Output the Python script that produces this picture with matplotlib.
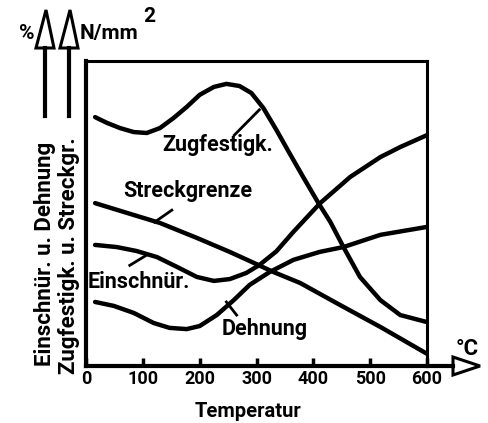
import matplotlib
matplotlib.use("Agg")
import matplotlib.pyplot as plt
from matplotlib.patches import Polygon
from matplotlib.lines import Line2D

# values (temperature in °C, y in relative units 0..100)
zug_t = [16, 37, 60, 84, 107, 130, 154, 177, 200, 225, 247, 270, 291, 312, 335, 358, 382, 409, 430, 453, 482, 518, 553, 600]
zug_v = [81.6, 79.7, 78.0, 76.7, 76.4, 78.0, 81.3, 84.9, 88.9, 91.5, 92.5, 91.8, 89.5, 84.6, 77.4, 69.8, 62.0, 53.4, 47.2, 39.0, 29.2, 21.6, 16.7, 14.4]

streck_t = [16, 72, 130, 195, 253, 300, 330, 377, 447, 518, 600]
streck_v = [53.4, 50.2, 46.9, 42.0, 37.4, 33.4, 30.8, 27.2, 20.0, 12.8, 4.0]

einschn_t = [16, 54, 89, 125, 160, 195, 225, 253, 282, 305, 335, 365, 412, 465, 518, 553, 600]
einschn_v = [39.7, 39.0, 37.7, 35.7, 32.5, 29.2, 27.9, 28.5, 30.5, 33.1, 37.6, 44.0, 53.4, 62.0, 68.5, 71.8, 75.7]

dehn_t = [16, 49, 84, 119, 147, 177, 200, 230, 260, 288, 323, 365, 411, 453, 518, 600]
dehn_v = [21.0, 19.7, 17.4, 14.1, 12.5, 12.1, 13.1, 16.7, 21.6, 26.6, 30.8, 34.8, 37.4, 39.0, 43.0, 45.6]

temp_ticks = [0, 100, 200, 300, 400, 500, 600]

FONT = ["Roboto", "DejaVu Sans"]

W, H = 488, 423
fig = plt.figure(figsize=(W / 100, H / 100), dpi=100)


def px(x, y):
    return (x / W, 1 - y / H)


ax = fig.add_axes([86 / W, 1 - 366 / H, 341 / W, 305 / H])

for t, v in [(zug_t, zug_v), (streck_t, streck_v), (einschn_t, einschn_v), (dehn_t, dehn_v)]:
    ax.plot(t, v, color="black", lw=3.2, solid_joinstyle="round", solid_capstyle="round")

ax.set_xlim(0, 600)
ax.set_ylim(0, 100)
ax.set_yticks([])
ax.set_xticks(temp_ticks)
ax.set_xticklabels([str(t) for t in temp_ticks])
ax.tick_params(axis="x", direction="in", length=6, width=2.5, pad=3, labelsize=13)
for lbl in ax.get_xticklabels():
    lbl.set_fontfamily(FONT)
    lbl.set_fontweight("bold")
for side in ["left", "bottom"]:
    ax.spines[side].set_linewidth(3)
for side in ["top", "right"]:
    ax.spines[side].set_linewidth(2.2)

# curve labels with leader strokes
txt = dict(fontsize=15.5, fontweight="bold", family=FONT, va="baseline", ha="left")
ax.text(135, 70.5, "Zugfestigk.", **txt)
ax.text(65, 55.4, "Streckgrenze", **txt)
ax.text(2, 25.6, "Einschnür.", **txt)
ax.text(239, 10.2, "Dehnung", **txt)
for (t0, v0), (t1, v1) in [((305, 84), (261, 75.7)), ((121, 47.2), (151, 51.1)),
                           ((77, 33), (107, 36.4)), ((247, 21), (265, 16.7))]:
    ax.plot([t0, t1], [v0, v1], color="black", lw=2)

# x axis arrow
x0, y0 = px(427, 366)
x1, _ = px(453, 366)
fig.add_artist(Line2D([x0, x1], [y0, y0], transform=fig.transFigure, color="black", lw=3))
fig.add_artist(Polygon([px(453, 357), px(480, 366), px(453, 375)], closed=True,
                       transform=fig.transFigure, facecolor="white", edgecolor="black", lw=2.2))
fig.text(*px(467, 355), "°C", fontsize=16, fontweight="bold", family=FONT, ha="center", va="baseline")

# y axis arrows
for xc in [45, 69]:
    a, b = px(xc, 116)
    _, c = px(xc, 48)
    fig.add_artist(Line2D([a, a], [b, c], transform=fig.transFigure, color="black", lw=3))
    fig.add_artist(Polygon([px(xc - 9, 48), px(xc + 1, 10), px(xc + 9, 48)], closed=True,
                           transform=fig.transFigure, facecolor="white", edgecolor="black", lw=2.2))
fig.text(*px(27, 39), "%", fontsize=15, fontweight="bold", family=FONT, ha="center", va="baseline")
fig.text(*px(80, 39), "N/mm", fontsize=15, fontweight="bold", family=FONT, ha="left", va="baseline")
fig.text(*px(143, 22), "2", fontsize=15, fontweight="bold", family=FONT, ha="left", va="baseline")

fig.text(*px(45, 254), "Einschnür. u. Dehnung", fontsize=16, fontweight="bold", family=FONT,
         rotation=90, ha="center", va="center")
fig.text(*px(69, 256), "Zugfestigk. u. Streckgr.", fontsize=16, fontweight="bold", family=FONT,
         rotation=90, ha="center", va="center")

fig.text(*px(248, 417), "Temperatur", fontsize=14.5, fontweight="bold", family=FONT, ha="center", va="baseline")

fig.savefig("out.png", dpi=100)
